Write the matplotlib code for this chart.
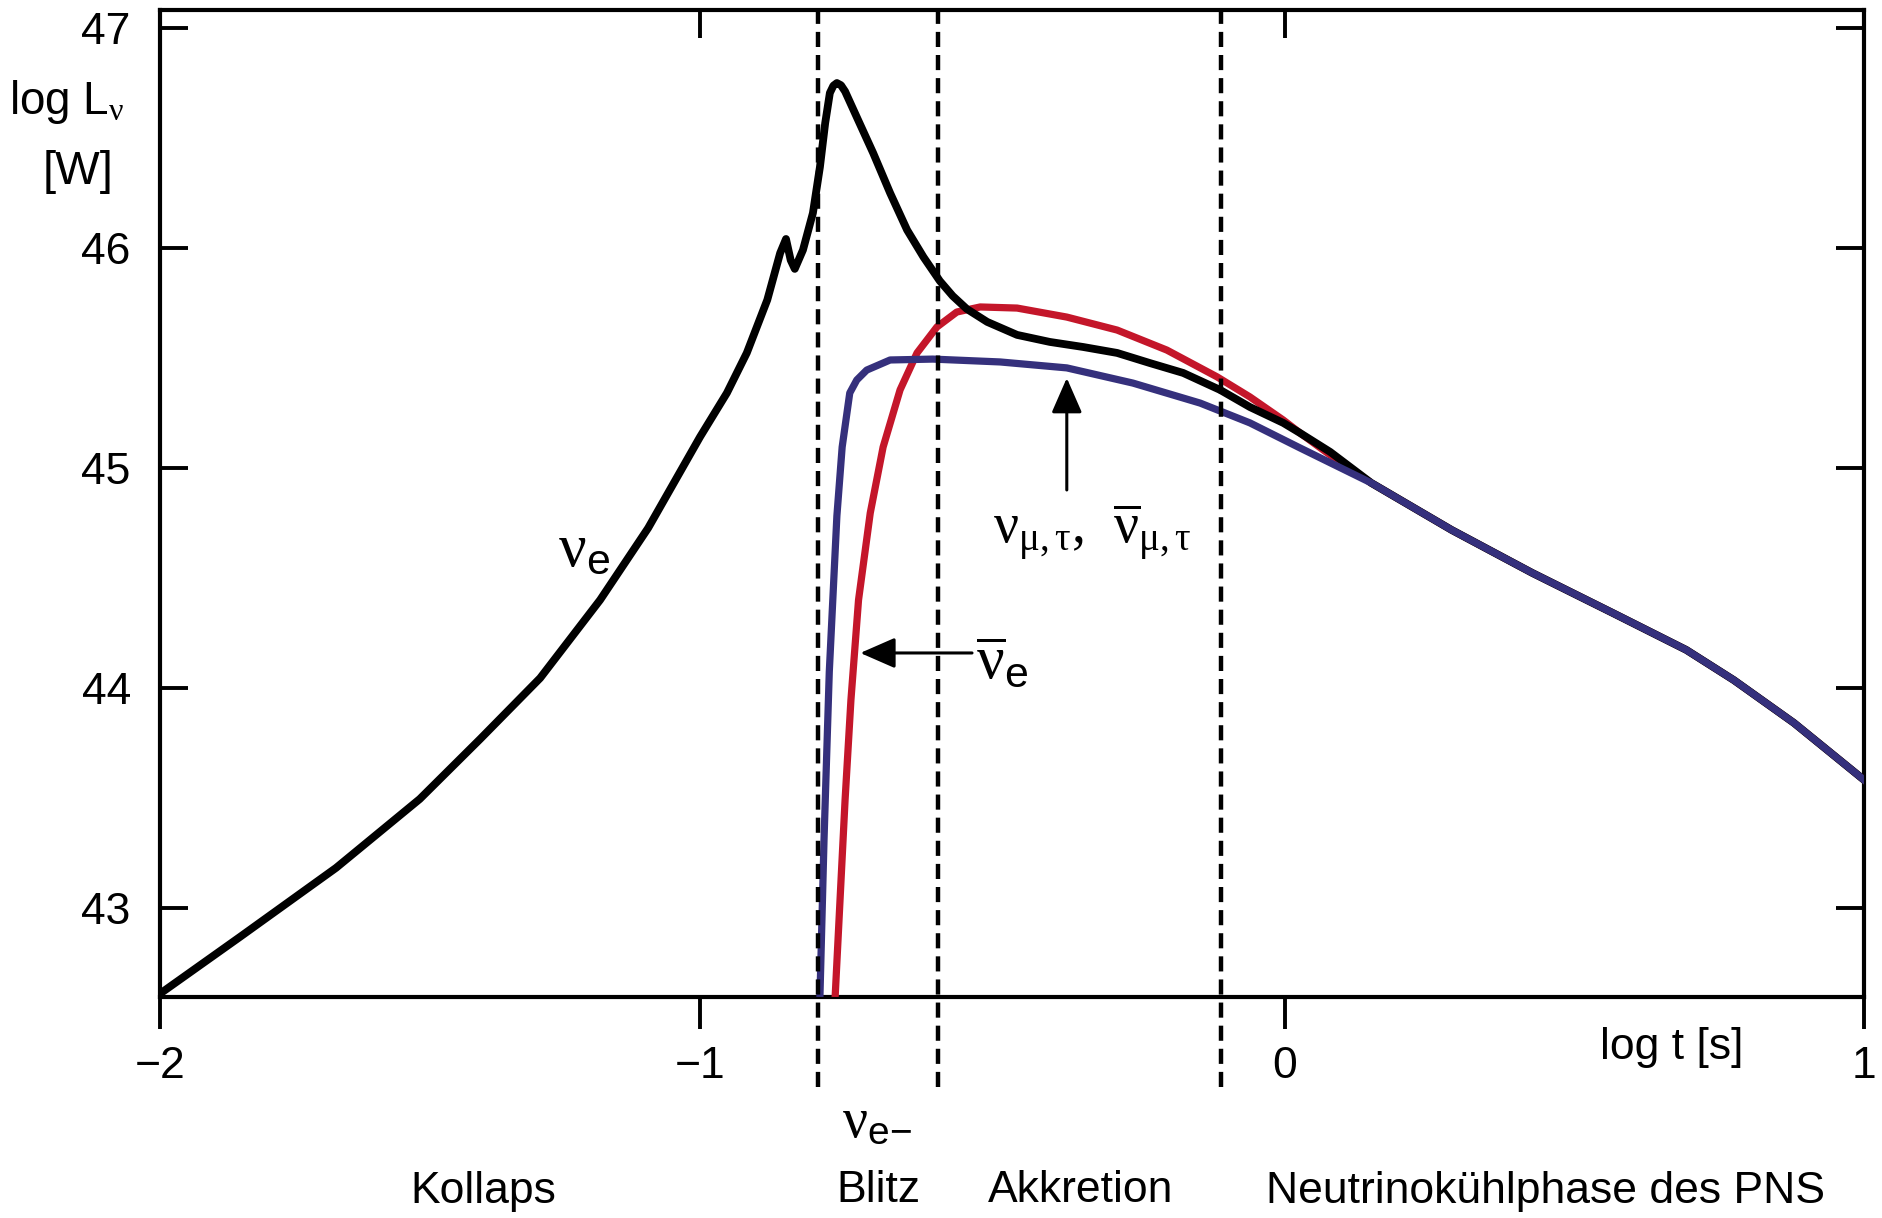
import numpy as np
import matplotlib
matplotlib.use("Agg")
import matplotlib.pyplot as plt

plt.rcParams['font.family'] = ['Liberation Sans', 'DejaVu Sans']
plt.rcParams['mathtext.fontset'] = 'custom'
plt.rcParams['mathtext.rm'] = 'Liberation Serif'
plt.rcParams['mathtext.it'] = 'Liberation Serif:italic'
plt.rcParams['mathtext.sf'] = 'Liberation Sans'

# electron neutrinos (nu_e)
nue_x = [-2.0, -1.852, -1.674, -1.519, -1.407, -1.296, -1.185, -1.096, -1.0, -0.954,
         -0.920, -0.885, -0.863, -0.853, -0.845, -0.838, -0.824, -0.807, -0.795, -0.786,
         -0.778, -0.772, -0.766, -0.759, -0.752, -0.732, -0.704, -0.675, -0.646, -0.618,
         -0.590, -0.568, -0.544, -0.509, -0.458, -0.402, -0.345, -0.287, -0.231, -0.174,
         -0.111, -0.060, -0.003, 0.026, 0.078]
nue_y = [42.61, 42.868, 43.182, 43.495, 43.768, 44.045, 44.40, 44.727, 45.141, 45.341,
         45.523, 45.764, 45.977, 46.041, 45.945, 45.905, 45.991, 46.159, 46.368, 46.568,
         46.705, 46.738, 46.750, 46.740, 46.712, 46.595, 46.432, 46.250, 46.082, 45.959,
         45.850, 45.782, 45.723, 45.664, 45.605, 45.573, 45.550, 45.523, 45.477, 45.432,
         45.355, 45.277, 45.205, 45.159, 45.073]

# nu_mu,tau and anti
numu_x = [-0.769, -0.752, -0.742, -0.729, -0.709, -0.687, -0.658, -0.629, -0.595, -0.561,
          -0.521, -0.458, -0.373, -0.287, -0.202, -0.116, -0.060, -0.003, 0.026, 0.078]
numu_y = [42.595, 43.491, 43.945, 44.4, 44.795, 45.095, 45.355, 45.523, 45.641, 45.709,
          45.732, 45.727, 45.686, 45.627, 45.536, 45.414, 45.323, 45.218, 45.159, 45.059]

# anti nu_e
anue_x = [-0.795, -0.788, -0.779, -0.766, -0.757, -0.744, -0.732, -0.715, -0.675,
          -0.602, -0.487, -0.373, -0.260, -0.145, -0.060, 0.026]
anue_y = [42.595, 43.309, 44.073, 44.782, 45.095, 45.341, 45.4, 45.445, 45.491,
          45.495, 45.482, 45.455, 45.386, 45.295, 45.205, 45.091]

# common cooling tail (all flavours together)
tail_x = [0.149, 0.288, 0.427, 0.566, 0.693, 0.775, 0.879, 1.0]
tail_y = [44.932, 44.718, 44.523, 44.341, 44.173, 44.036, 43.841, 43.582]

phase_bounds = [-0.798, -0.593, -0.109]
phase_names = ["Kollaps", "Blitz", "Akkretion", "Neutrinokühlphase des PNS"]
xticks = [-2, -1, 0, 1]
xtick_labels = ["\u22122", "\u22121", "0", "1"]
yticks = [43, 44, 45, 46, 47]

# the original axis is not evenly spaced between the decades
XT = np.array([-2.0, -1.0, 0.0, 1.0])
XP = np.array([0.0, 540.0, 1125.0, 1704.0])


def fwd(x):
    x = np.asarray(x, dtype=float)
    return np.where(x < -2, (x + 2) * 540, np.where(x > 1, 1704 + (x - 1) * 579, np.interp(x, XT, XP)))


def inv(p):
    p = np.asarray(p, dtype=float)
    return np.where(p < 0, p / 540 - 2, np.where(p > 1704, 1 + (p - 1704) / 579, np.interp(p, XP, XT)))


W, H = 1883, 1218
fig = plt.figure(figsize=(W / 100, H / 100), dpi=100)
ax = fig.add_axes([160 / W, 1 - 997 / H, (1864 - 160) / W, (997 - 10) / H])
ax.set_xscale('function', functions=(fwd, inv))
ax.set_xlim(-2, 1)
ax.set_ylim(42.595, 47.082)

red = '#c4162a'
blue = '#35307c'
ax.plot(numu_x + tail_x, numu_y + tail_y, color=red, lw=5.2, solid_joinstyle='round', zorder=3)
ax.plot(nue_x + tail_x, nue_y + tail_y, color='black', lw=5.6, solid_joinstyle='round', zorder=4)
ax.plot(anue_x + tail_x, anue_y + tail_y, color=blue, lw=5.2, solid_joinstyle='round', zorder=5)

for xb in phase_bounds:
    ax.plot([xb, xb], [42.186, 47.082], color='black', lw=3.2, ls=(0, (3.4, 1.8)),
            clip_on=False, zorder=6)

for s in ax.spines.values():
    s.set_linewidth(3)

ax.set_xticks(xticks)
ax.set_xticklabels(xtick_labels)
ax.set_yticks(yticks)
ax.tick_params(axis='x', direction='out', length=23, width=2.8, pad=12, labelsize=32, top=False)
ax.tick_params(axis='y', direction='in', length=20, width=2.8, pad=21, labelsize=32,
               left=True, right=True)

ax2 = ax.twiny()
ax2.set_xscale('function', functions=(fwd, inv))
ax2.set_xlim(-2, 1)
ax2.set_xticks(xticks)
ax2.tick_params(axis='x', direction='in', length=20, width=2.8, labeltop=False)

# annotations
ax.text(-1.215, 44.627, r'$\mathrm{\nu}_{\mathsf{e}}$', fontsize=44, ha='center', va='center')
ax.text(-0.483, 44.114, r'$\overline{\mathrm{\nu}}_{\mathsf{e}}$', fontsize=44, ha='center', va='center')
ax.text(-0.33, 44.705, r'$\mathrm{\nu}_{\mathrm{\mu,\tau}}$,  $\overline{\mathrm{\nu}}_{\mathrm{\mu,\tau}}$',
        fontsize=40, family='Liberation Serif', ha='center', va='center')
ax.annotate('', xy=(-0.726, 44.159), xytext=(-0.535, 44.159),
            arrowprops=dict(arrowstyle='-|>,head_length=0.8,head_width=0.35', mutation_scale=27,
                            lw=2.2, color='black', shrinkA=0, shrinkB=0))
ax.annotate('', xy=(-0.373, 45.409), xytext=(-0.373, 44.9),
            arrowprops=dict(arrowstyle='-|>,head_length=0.8,head_width=0.35', mutation_scale=27,
                            lw=2.2, color='black', shrinkA=0, shrinkB=0))

fig.text(67 / W, 1 - 102 / H, r'log L$_{\mathrm{\nu}}$', fontsize=33, ha='center', va='center')
fig.text(78 / W, 1 - 172 / H, '[W]', fontsize=34, ha='center', va='center')
fig.text(1672 / W, 1 - 1047 / H, 'log t [s]', fontsize=32, ha='center', va='center')
fig.text(877 / W, 1 - 1123 / H, r'$\mathrm{\nu}_{\mathsf{e}\mathsf{-}}$', fontsize=40,
         ha='center', va='center')

name_x = [483, 878, 1081, 1546]
for nx, name in zip(name_x, phase_names):
    fig.text(nx / W, 1 - 1191 / H, name, fontsize=32, ha='center', va='center')

fig.savefig('out.png', dpi=100)
